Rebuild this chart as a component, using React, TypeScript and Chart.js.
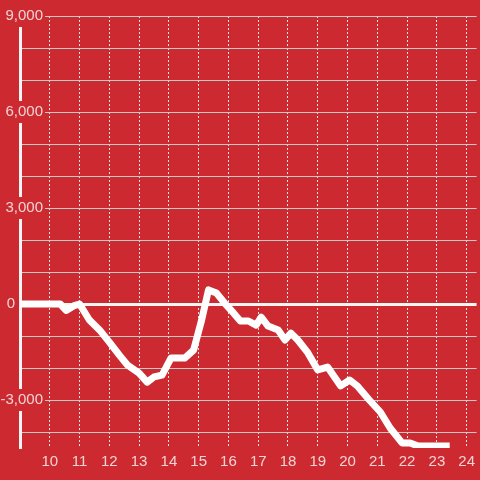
import { useEffect, useRef } from 'react';
import { Chart, registerables } from 'chart.js';

Chart.register(...registerables);

// Data
const xValues = [
  9, 10.35, 10.55, 10.8, 11.0, 11.33, 11.67, 12.0, 12.33, 12.6, 13.0, 13.27, 13.5, 13.77,
  14.07, 14.53, 14.83, 15.1, 15.33, 15.6, 15.87, 16.17, 16.4, 16.67, 16.93, 17.1, 17.33,
  17.67, 17.9, 18.1, 18.33, 18.67, 19.0, 19.33, 19.77, 20.07, 20.33, 20.73, 21.1, 21.43,
  21.83, 22.1, 22.37, 23.43,
];
const yValues = [
  0, 0, -200, -60, 0, -500, -810, -1190, -1590, -1900, -2160, -2440, -2280, -2220,
  -1690, -1690, -1440, -500, 440, 340, 30, -280, -530, -530, -660, -410, -690,
  -810, -1125, -910, -1125, -1530, -2060, -1970, -2560, -2375, -2560, -3000, -3375, -3875,
  -4340, -4340, -4440, -4440,
];
const xMin = 9;
const xMax = 24.333;
const xTicks = [9, 10, 11, 12, 13, 14, 15, 16, 17, 18, 19, 20, 21, 22, 23, 24];
const yMin = -4500;
const yMax = 9000;
const yTicks = [-4000, -3000, -2000, -1000, 0, 1000, 2000, 3000, 4000, 5000, 6000, 7000, 8000, 9000];
const yLabelTicks = [-3000, 3000, 6000, 9000];

const BG = '#cc2a30';
const LABEL = '#f3d3d4';
const FONT = 'Liberation Sans, Arial, sans-serif';

const noLabelClip = (s: any) => {
  s._computeLabelArea = () => undefined;
};

export default function App() {
  const ref = useRef<HTMLCanvasElement>(null);

  useEffect(() => {
    document.body.style.margin = '0';
    document.body.style.background = BG;
    const points = xValues.map((x, i) => ({ x, y: yValues[i] }));
    const isLabel = (v: number) => yLabelTicks.indexOf(v) >= 0;
    const chart = new Chart(ref.current as HTMLCanvasElement, {
      type: 'line',
      data: {
        datasets: [
          {
            data: points,
            borderColor: '#ffffff',
            borderWidth: 7,
            pointRadius: 0,
            tension: 0,
            borderJoinStyle: 'round',
            borderCapStyle: 'butt',
            yAxisID: 'y',
            xAxisID: 'x',
          },
        ],
      },
      options: {
        responsive: false,
        animation: false,
        layout: { padding: { top: 16, right: 0, bottom: 0, left: 0 } },
        plugins: { legend: { display: false }, tooltip: { enabled: false } },
        scales: {
          x: {
            type: 'linear',
            min: xMin,
            max: xMax,
            afterBuildTicks: (s: any) => {
              s.ticks = xTicks.map((value) => ({ value }));
            },
            afterFit: (s: any) => {
              s.height = 32;
            },
            ticks: {
              autoSkip: false,
              maxRotation: 0,
              padding: 5,
              color: LABEL,
              font: { family: FONT, size: 15 },
              callback: (v: any) => (v === xMin ? '' : String(v)),
            },
            grid: { color: '#e4e4e4', lineWidth: 1, drawTicks: false },
            border: { display: false, dash: [2, 2] },
          },
          y: {
            type: 'linear',
            position: 'left',
            min: yMin,
            max: yMax,
            weight: 0,
            afterBuildTicks: (s: any) => {
              s.ticks = yTicks.map((value) => ({ value }));
            },
            afterFit: (s: any) => {
              s.width = 20;
            },
            afterUpdate: noLabelClip,
            ticks: {
              autoSkip: false,
              padding: -23,
              color: LABEL,
              font: { family: FONT, size: 15 },
              showLabelBackdrop: (ctx: any) => !!(ctx.tick && isLabel(ctx.tick.value)),
              backdropColor: BG,
              backdropPadding: 2,
              callback: (v: any) => (isLabel(Number(v)) ? Number(v).toLocaleString('en-US') : ''),
            },
            grid: {
              drawTicks: false,
              color: (ctx: any) => (ctx.tick && ctx.tick.value === 0 ? '#f4f4f4' : '#c9c9c9'),
              lineWidth: (ctx: any) => (ctx.tick && ctx.tick.value === 0 ? 3 : 1),
            },
            border: { display: true, color: '#f4f4f4', width: 3 },
          },
          y0: {
            type: 'linear',
            position: 'left',
            min: yMin,
            max: yMax,
            weight: 10,
            afterBuildTicks: (s: any) => {
              s.ticks = [{ value: 0 }];
            },
            afterFit: (s: any) => {
              s.width = 0;
            },
            afterUpdate: noLabelClip,
            ticks: {
              autoSkip: false,
              padding: -15,
              color: LABEL,
              font: { family: FONT, size: 15 },
              callback: () => '0',
            },
            grid: { display: false, drawTicks: false },
            border: { display: false },
          },
        },
      },
    } as any);
    return () => chart.destroy();
  }, []);

  return (
    <canvas
      ref={ref}
      width={480}
      height={480}
      style={{ display: 'block', width: 480, height: 480, background: BG }}
    />
  );
}
